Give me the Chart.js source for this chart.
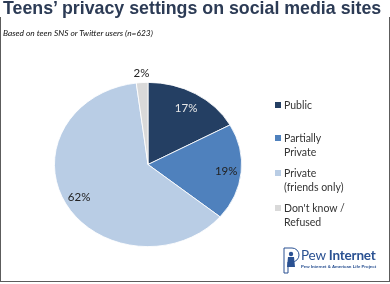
<!DOCTYPE html>
<html>
<head>
<meta charset="utf-8">
<script src="https://cdn.jsdelivr.net/npm/chart.js@4/dist/chart.umd.min.js"></script>
<style>
  html,body{margin:0;padding:0;background:#fff;}
  #wrap{position:relative;width:390px;height:284px;overflow:hidden;background:#fff;font-family:Lato,"Open Sans",sans-serif;}
  #frame{position:absolute;left:0;top:17px;height:265px;border-left:1.5px solid #5c5c5c;border-right:1.5px solid #5c5c5c;border-bottom:1.5px solid #5c5c5c;box-sizing:border-box;width:390px;}
  #title{position:absolute;left:3px;top:-2px;font-family:"Liberation Sans",Arial,sans-serif;font-weight:bold;font-size:17.8px;color:#2c3b55;white-space:nowrap;background:#fff;}
  #sub{position:absolute;left:3px;top:28px;font-family:Lato,sans-serif;font-style:italic;font-size:8.4px;color:#111;white-space:nowrap;}
  #chart{position:absolute;left:0;top:0;}
  .leg{position:absolute;left:275px;font-size:10.5px;color:#333;line-height:14px;}
  .leg i{position:absolute;left:0;top:4px;width:6px;height:6px;}
  .leg span{display:block;margin-left:9px;white-space:nowrap;}
  #logo{position:absolute;left:282px;top:247px;width:100px;height:28px;}
  #logoText{position:absolute;left:19px;top:0px;font-family:Lato,sans-serif;font-size:13.5px;color:#2a5192;white-space:nowrap;letter-spacing:-0.2px;}
  #logoSub{position:absolute;left:19px;top:17px;font-family:"Liberation Sans",Arial,sans-serif;font-weight:bold;font-size:4.3px;color:#2a5192;white-space:nowrap;}
</style>
</head>
<body>
<div id="wrap">
  <div id="frame"></div>
  <canvas id="chart" width="390" height="284"></canvas>
  <div id="title">Teens’ privacy settings on social media sites</div>
  <div id="sub">Based on teen SNS or Twitter users (n=623)</div>
  <div id="legend"></div>
  <div id="logo">
    <svg width="18" height="27" viewBox="0 0 18 27" style="position:absolute;left:0;top:0">
      <path d="M2 1 H10 A7 7 0 0 1 10 15 H6 V26 H2 Z" fill="none" stroke="#2a5192" stroke-width="1"/>
      <circle cx="9" cy="7" r="2.2" fill="#2a5192"/>
      <path d="M6 10 H12 L13 20 H5 Z" fill="#2a5192"/>
    </svg>
    <div id="logoText">Pew <b>Internet</b></div>
    <div id="logoSub">Pew Internet &amp; American Life Project</div>
  </div>
</div>
<script>
const categories = ["Public", "Partially Private", "Private (friends only)", "Don't know / Refused"];
const legendLines = [["Public"], ["Partially", "Private"], ["Private", "(friends only)"], ["Don't know /", "Refused"]];
const values = [17, 19, 62, 2];
const colors = ["#243f63", "#4f81bd", "#b9cde5", "#d9d9d9"];
const labelColors = ["#e8e8e8", "#222222", "#222222", "#222222"];

const legendTops = [98, 131, 166, 201];
const legendEl = document.getElementById('legend');
categories.forEach((c, i) => {
  const d = document.createElement('div');
  d.className = 'leg';
  d.style.top = legendTops[i] + 'px';
  d.innerHTML = '<i style="background:' + colors[i] + '"></i>' + legendLines[i].map(s => '<span>' + s + '</span>').join('');
  legendEl.appendChild(d);
});

const SX = 94 / 82.5;

const ellipsePlugin = {
  id: 'ellipse',
  beforeDatasetsDraw(chart) {
    const a = chart.getDatasetMeta(0).data[0];
    const ctx = chart.ctx;
    ctx.save();
    ctx.translate(a.x, a.y);
    ctx.scale(SX, 1);
    ctx.translate(-a.x, -a.y);
  },
  afterDatasetsDraw(chart) {
    chart.ctx.restore();
  }
};

const labelPlugin = {
  id: 'pieLabels',
  afterDraw(chart) {
    const ctx = chart.ctx;
    const meta = chart.getDatasetMeta(0);
    ctx.save();
    ctx.font = '11.5px Lato, "Open Sans", sans-serif';
    ctx.textAlign = 'center';
    ctx.textBaseline = 'middle';
    meta.data.forEach((arc, i) => {
      const p = arc.getProps(['x', 'y', 'startAngle', 'endAngle', 'outerRadius'], true);
      const mid = (p.startAngle + p.endAngle) / 2;
      const f = values[i] < 5 ? 1.11 : (i === 0 ? 0.8 : 0.84);
      const x = p.x + Math.cos(mid) * p.outerRadius * f * SX;
      const y = p.y + Math.sin(mid) * p.outerRadius * f;
      ctx.fillStyle = labelColors[i];
      ctx.fillText(values[i] + '%', x, y);
    });
    ctx.restore();
  }
};

new Chart(document.getElementById('chart'), {
  type: 'pie',
  data: {
    labels: categories,
    datasets: [{
      data: values,
      backgroundColor: colors,
      borderColor: '#ffffff',
      borderWidth: 0.8
    }]
  },
  options: {
    responsive: false,
    animation: false,
    layout: { padding: { top: 82, bottom: 37, left: 65.5, right: 159.5 } },
    plugins: { legend: { display: false }, tooltip: { enabled: false }, title: { display: false } }
  },
  plugins: [ellipsePlugin, labelPlugin]
});
</script>
</body>
</html>
